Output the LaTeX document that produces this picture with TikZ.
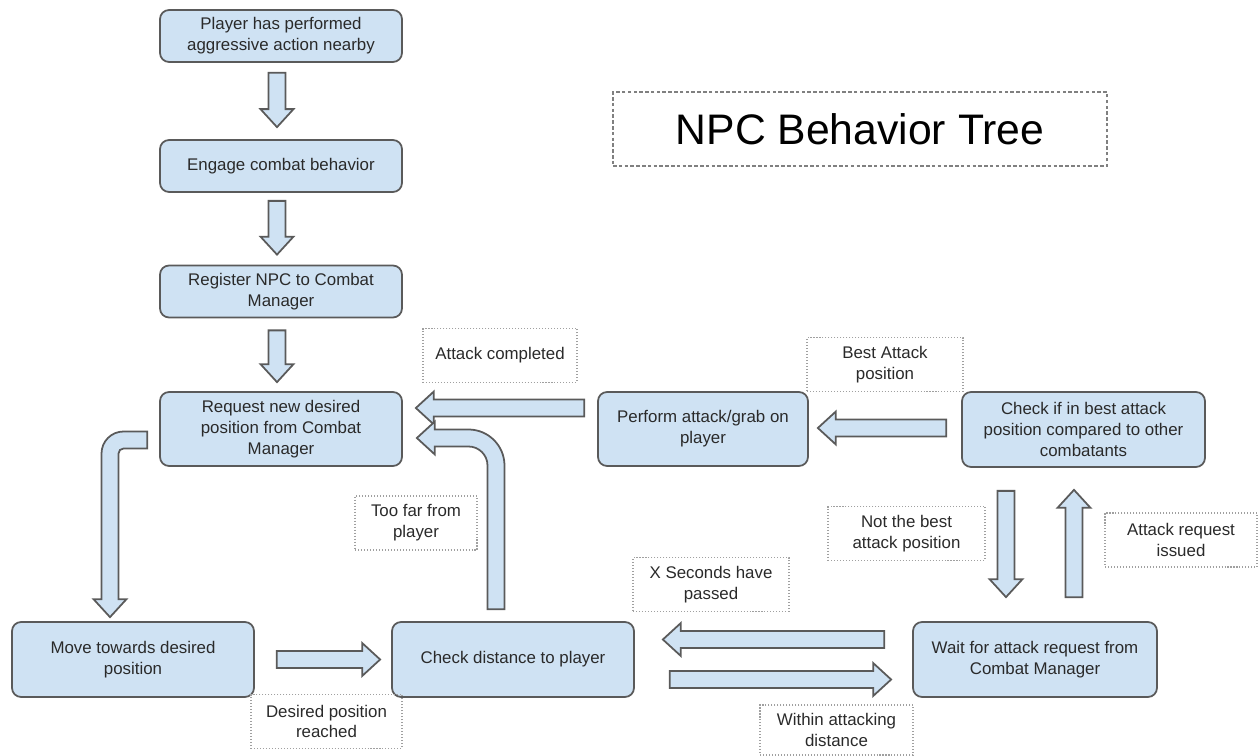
\documentclass[tikz,border=0pt]{standalone}
\usepackage{fontspec}
\setmainfont{Liberation Sans}
\usetikzlibrary{calc}

\definecolor{boxfill}{HTML}{CFE2F3}
\definecolor{boxline}{HTML}{5A5A5A}
\definecolor{tagline}{HTML}{A0A0A0}
\definecolor{txt}{HTML}{2A2A2A}

\tikzset{
  state/.style={draw=boxline, fill=boxfill, line width=1pt, rounded corners=0.18cm,
    text=txt, align=center, minimum width=4.84cm, minimum height=1.04cm,
    font=\fontsize{9.6}{11.8}\selectfont},
  tag/.style={draw=tagline, line width=0.6pt, dash pattern=on 0.6pt off 1.1pt,
    text=txt, align=center, minimum width=3.08cm, minimum height=1.08cm,
    font=\fontsize{9.6}{11.8}\selectfont},
  arrowbody/.style={draw=boxline, fill=boxfill, line width=1pt, line join=miter},
}

% block arrow from #1 to #2 (tip at #2)
\newcommand{\blockarrow}[2]{%
  \coordinate (hb) at ($(#2)!0.36cm!(#1)$);
  \draw[arrowbody] ($(#1)!0.17cm!90:(#2)$) -- ($(hb)!0.17cm!90:(#2)$)
    -- ($(hb)!0.33cm!90:(#2)$) -- (#2) -- ($(hb)!0.33cm!-90:(#2)$)
    -- ($(hb)!0.17cm!-90:(#2)$) -- ($(#1)!0.17cm!-90:(#2)$) -- cycle;}

\begin{document}
\begin{tikzpicture}[x=0.02cm, y=0.02cm]
  \useasboundingbox (0,0) rectangle (1258,755);

  % states
  \node[state] (aggro) at (281,719) {Player has performed\\aggressive action nearby};
  \node[state] (engage) at (281,589) {Engage combat behavior};
  \node[state] (register) at (281,463.5) {Register NPC to Combat\\Manager};
  \node[state, minimum height=1.48cm] (request) at (281,326) {Request new desired\\position from Combat\\Manager};
  \node[state, minimum height=1.5cm] (move) at (133,95.5) {Move towards desired\\position};
  \node[state, minimum height=1.5cm] (check) at (513,95.5) {Check distance to player};
  \node[state, minimum height=1.5cm, minimum width=4.88cm] (wait) at (1035,95.5) {Wait for attack request from\\Combat Manager};
  \node[state, minimum height=1.5cm, minimum width=4.86cm] (best) at (1083.5,325.5) {Check if in best attack\\position compared to other\\combatants};
  \node[state, minimum height=1.48cm, minimum width=4.2cm] (perform) at (703,326) {Perform attack/grab on\\player};

  % title
  \node[draw=gray, line width=0.7pt, dash pattern=on 2pt off 1.3pt, minimum width=9.88cm,
    minimum height=1.48cm, font=\fontsize{24.3}{28}\selectfont] (title) at (860,626) {NPC Behavior Tree};

  % tags
  \node[tag] (done) at (500,399.5) {Attack completed};
  \node[tag, minimum width=3.12cm] (bestpos) at (885,390.5) {Best Attack\\position};
  \node[tag, minimum width=2.44cm] (toofar) at (416,232) {Too far from\\player};
  \node[tag, minimum width=3.14cm] (notbest) at (906.5,221.5) {Not the best\\attack position};
  \node[tag, minimum width=3.04cm] (issued) at (1181,215) {Attack request\\issued};
  \node[tag, minimum width=3.12cm] (xsec) at (711,170.5) {X Seconds have\\passed};
  \node[tag, minimum width=3.02cm] (reached) at (326.5,33.5) {Desired position\\reached};
  \node[tag, minimum width=3.06cm, minimum height=1cm] (within) at (836.5,25) {Within attacking\\distance};

  % arrow ends
  \coordinate (a1s) at ($(aggro.south)+(-4,-10)$);
  \coordinate (a1e) at ($(engage.north)+(-4,12)$);
  \coordinate (a2s) at ($(engage.south)+(-4,-8)$);
  \coordinate (a2e) at ($(register.north)+(-4,10)$);
  \coordinate (a3s) at ($(register.south)+(-4,-12)$);
  \coordinate (a3e) at ($(request.north)+(-4,9)$);
  \coordinate (a4s) at ($(perform.west)+(-13,21)$);
  \coordinate (a4e) at ($(request.east)+(13,21)$);
  \coordinate (a5s) at ($(best.west)+(-15,1.5)$);
  \coordinate (a5e) at ($(perform.east)+(9,1)$);
  \coordinate (a6s) at ($(best.south)+(-77.5,-23)$);
  \coordinate (a6e) at ($(wait.north)+(-29,24)$);
  \coordinate (a7s) at ($(wait.north)+(39,24)$);
  \coordinate (a7e) at ($(best.south)+(-9.5,-22)$);
  \coordinate (a8s) at ($(move.east)+(22,0)$);
  \coordinate (a8e) at ($(check.west)+(-11,0)$);
  \coordinate (a9s) at ($(wait.west)+(-28,20)$);
  \coordinate (a9e) at ($(check.east)+(28,20)$);
  \coordinate (a10s) at ($(check.east)+(35,-20)$);
  \coordinate (a10e) at ($(wait.west)+(-21,-20)$);
  \coordinate (c1s) at ($(check.north)+(-17,12)$);
  \coordinate (c1e) at ($(request.east)+(14,-9)$);
  \coordinate (c2s) at ($(request.west)+(-12,-11)$);
  \coordinate (c2e) at ($(move.north)+(-23,4)$);

  % straight arrows
  \blockarrow{a1s}{a1e}
  \blockarrow{a2s}{a2e}
  \blockarrow{a3s}{a3e}
  \blockarrow{a4s}{a4e}
  \blockarrow{a5s}{a5e}
  \blockarrow{a6s}{a6e}
  \blockarrow{a7s}{a7e}
  \blockarrow{a8s}{a8e}
  \blockarrow{a9s}{a9e}
  \blockarrow{a10s}{a10e}

  % bent arrows
  \draw[arrowbody] ($(c1s)+(-8.5,0)$) -- ($(c1s|-c1e)+(-8.5,-27.5)$)
    arc[start angle=0, end angle=90, radius=0.38cm] -- ($(c1e)+(18,-8.5)$) -- ++(0,-8)
    -- (c1e) -- ($(c1e)+(18,16.5)$) -- ++(0,-8) -- ($(c1s|-c1e)+(-27.5,8.5)$)
    arc[start angle=90, end angle=0, radius=0.72cm] -- ($(c1s)+(8.5,0)$) -- cycle;
  \draw[arrowbody] ($(c2s)+(0,8.5)$) -- ($(c2e|-c2s)+(13.5,8.5)$)
    arc[start angle=90, end angle=180, radius=0.44cm] -- ($(c2e)+(-8.5,18)$) -- ++(-8,0)
    -- (c2e) -- ($(c2e)+(16.5,18)$) -- ++(-8,0) -- ($(c2e|-c2s)+(8.5,-13.5)$)
    arc[start angle=180, end angle=90, radius=0.1cm] -- ($(c2s)+(0,-8.5)$) -- cycle;
\end{tikzpicture}
\end{document}
